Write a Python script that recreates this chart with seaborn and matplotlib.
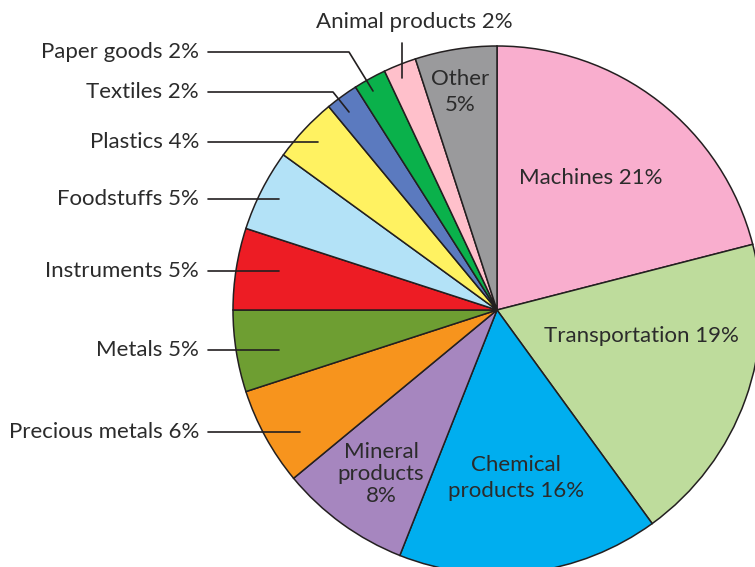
import numpy as np
import matplotlib.pyplot as plt
import seaborn as sns

categories = ["Machines", "Transportation", "Chemical products", "Mineral products",
              "Precious metals", "Metals", "Instruments", "Foodstuffs", "Plastics",
              "Textiles", "Paper goods", "Animal products", "Other"]
shares = [21, 19, 16, 8, 6, 5, 5, 5, 4, 2, 2, 2, 5]
colors = ["#F9AECE", "#BEDC9C", "#00AEEF", "#A686BF", "#F7941D", "#6E9E32", "#ED1C24",
          "#B3E2F7", "#FFF261", "#5B7ABF", "#0AB14B", "#FFC0CB", "#9A9A9C"]

sns.set_theme(style="white")
plt.rcParams["font.family"] = ["Lato", "DejaVu Sans"]

W, H = 755, 567
CX, CY, R = 497, 310, 264


def px(x, y):
    # pixel position (from top-left) -> data units of the pie
    return (x - CX) / R, (CY - y) / R


fig = plt.figure(figsize=(W / 100, H / 100), dpi=100)
ax = fig.add_axes([0, 0, 1, 1])
ax.pie(shares, colors=sns.color_palette(colors), startangle=90, counterclock=False,
       radius=1, wedgeprops=dict(edgecolor="#231F20", linewidth=1.1))
ax.set_xlim(-CX / R, (W - CX) / R)
ax.set_ylim(-(H - CY) / R, CY / R)
ax.set_aspect("auto")
ax.axis("off")

txt = dict(fontsize=16, color="#2B2B2B")
line = dict(color="#231F20", lw=1.2)

# labels inside the wedges
inside = {
    "Machines": ((591, 178), "Machines 21%", 1.2),
    "Transportation": ((641, 336), "Transportation 19%", 1.2),
    "Chemical products": ((516, 478), "Chemical\nproducts 16%", 1.4),
    "Mineral products": ((381, 474), "Mineral\nproducts\n8%", 1.1),
    "Other": ((460, 92), "Other\n5%", 1.4),
}
for name, (pos, label, ls) in inside.items():
    x, y = px(*pos)
    ax.text(x, y, label, ha="center", va="center", linespacing=ls, **txt)

# labels outside with leader lines: text y, leader path
outside = [
    ("Paper goods", 52, [(208, 52), (349, 52), (373, 91)]),
    ("Textiles", 92, [(208, 92), (333, 92), (349, 112)]),
    ("Plastics", 142, [(208, 142), (318, 142)]),
    ("Foodstuffs", 199, [(208, 199), (279, 199)]),
    ("Instruments", 271, [(208, 271), (279, 271)]),
    ("Metals", 350, [(208, 350), (279, 350)]),
    ("Precious metals", 432, [(208, 432), (300, 432)]),
]
for name, ty, path in outside:
    share = shares[categories.index(name)]
    x, y = px(199, ty)
    ax.text(x, y, f"{name} {share}%", ha="right", va="center", **txt)
    pts = np.array([px(a, b) for a, b in path])
    ax.plot(pts[:, 0], pts[:, 1], **line)

share = shares[categories.index("Animal products")]
x, y = px(414, 22)
ax.text(x, y, f"Animal products {share}%", ha="center", va="center", **txt)
pts = np.array([px(402, 43), px(402, 78)])
ax.plot(pts[:, 0], pts[:, 1], **line)

fig.savefig("out.png", dpi=100)
